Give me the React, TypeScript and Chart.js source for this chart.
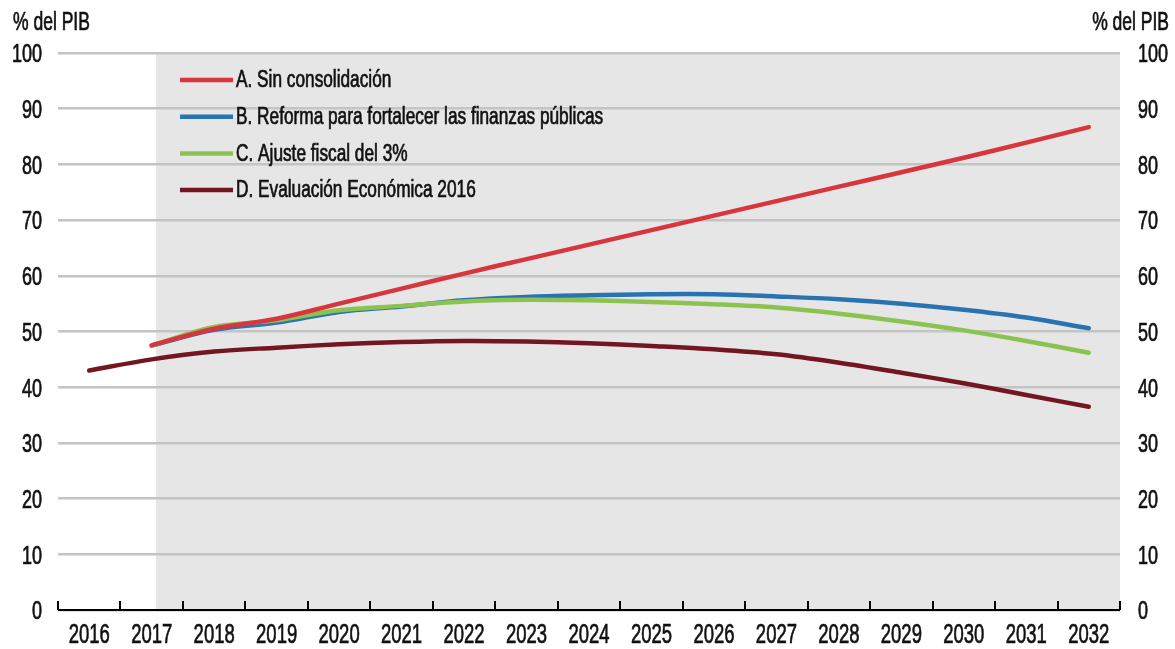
import React, { useEffect, useRef } from "react";
import { Chart, registerables } from "chart.js";

Chart.register(...registerables);

const YEARS = ["2016","2017","2018","2019","2020","2021","2022","2023","2024","2025","2026","2027","2028","2029","2030","2031","2032"];
const SIN_CONSOLIDACION = [null, 47.5, 50.5, 52.3, 55.0, 57.7, 60.4, 63.0, 65.6, 68.2, 70.8, 73.4, 76.0, 78.6, 81.2, 83.9, 86.7];
const REFORMA = [null, 47.5, 50.3, 51.6, 53.5, 54.5, 55.6, 56.2, 56.5, 56.7, 56.7, 56.3, 55.8, 55.0, 53.9, 52.5, 50.6];
const AJUSTE = [null, 47.5, 50.8, 52.0, 53.8, 54.6, 55.4, 55.7, 55.6, 55.3, 54.9, 54.3, 53.2, 51.8, 50.2, 48.3, 46.2];
const EVALUACION = [43.0, 45.0, 46.4, 47.1, 47.7, 48.1, 48.3, 48.2, 47.9, 47.4, 46.8, 45.9, 44.4, 42.6, 40.7, 38.6, 36.5];
const SERIES_LABELS = [
  "A. Sin consolidación",
  "B. Reforma para fortalecer las finanzas públicas",
  "C. Ajuste fiscal del 3%",
  "D. Evaluación Económica 2016",
];
const SERIES_COLORS = ["#d8363f", "#2874b2", "#8cc350", "#741522"];
const UNIT_LABEL = "% del PIB";
const Y_MIN = 0;
const Y_MAX = 100;
const Y_STEP = 10;
const SHADE_FROM = 1.07; // category index where projection shading starts

const FONT = '"Liberation Sans", Arial, sans-serif';

function drawText(ctx: CanvasRenderingContext2D, text: string, x: number, y: number, size: number, sx: number, align: CanvasTextAlign) {
  ctx.save();
  ctx.font = `${size}px ${FONT}`;
  ctx.textAlign = align;
  ctx.textBaseline = "middle";
  ctx.fillStyle = "#111";
  ctx.strokeStyle = "#111";
  ctx.lineWidth = 0.7;
  ctx.translate(x, y);
  ctx.scale(sx, 1);
  ctx.fillText(text, 0, 0);
  ctx.strokeText(text, 0, 0);
  ctx.restore();
}

const decorPlugin = {
  id: "decor",
  beforeDraw(chart: any) {
    const { ctx, chartArea, scales } = chart;
    const start = scales.x.getPixelForValue(SHADE_FROM);
    ctx.save();
    ctx.fillStyle = "#e6e6e6";
    ctx.fillRect(start, chartArea.top, chartArea.right - start, chartArea.bottom - chartArea.top);
    ctx.restore();
  },
  afterDraw(chart: any) {
    const { ctx, chartArea, scales } = chart;
    const x = scales.x;
    const y = scales.y;
    ctx.save();
    // axis line
    ctx.strokeStyle = "#000";
    ctx.lineWidth = 2;
    ctx.beginPath();
    ctx.moveTo(chartArea.left, chartArea.bottom);
    ctx.lineTo(chartArea.right, chartArea.bottom);
    ctx.stroke();
    // inward ticks at category boundaries
    for (let i = 0; i <= YEARS.length; i++) {
      const px = Math.round(x.getPixelForValue(i - 0.5));
      ctx.beginPath();
      ctx.moveTo(px, chartArea.bottom);
      ctx.lineTo(px, chartArea.bottom - 9);
      ctx.stroke();
    }
    ctx.restore();

    // x tick labels
    x.getLabels().forEach((lab: string, i: number) => {
      drawText(ctx, lab, x.getPixelForTick(i), chartArea.bottom + 25, 28, 0.66, "center");
    });
    // y tick labels, both sides
    y.ticks.forEach((t: any) => {
      const py = y.getPixelForValue(t.value) + 2.5;
      drawText(ctx, String(t.value), chartArea.left - 16, py, 25, 0.72, "right");
      drawText(ctx, String(t.value), chartArea.right + 18, py, 25, 0.72, "left");
    });
    // unit labels
    drawText(ctx, UNIT_LABEL, 13, 23, 25, 0.7, "left");
    drawText(ctx, UNIT_LABEL, 1169, 23, 25, 0.7, "right");

    // legend
    ctx.save();
    for (let i = 0; i < SERIES_LABELS.length; i++) {
      const ly = chartArea.top + 27 + i * 36.7;
      ctx.strokeStyle = SERIES_COLORS[i];
      ctx.lineWidth = 4.5;
      ctx.beginPath();
      ctx.moveTo(180, ly);
      ctx.lineTo(233, ly);
      ctx.stroke();
      drawText(ctx, SERIES_LABELS[i], 236, ly + 1, 23, 0.75, "left");
    }
    ctx.restore();
  },
};

export default function App() {
  const ref = useRef<HTMLCanvasElement | null>(null);
  useEffect(() => {
    if (!ref.current) return;
    const seriesData = [SIN_CONSOLIDACION, REFORMA, AJUSTE, EVALUACION];
    const drawOrder = [0, 2, 1, 3];
    const chart = new Chart(ref.current, {
      type: "line",
      data: {
        labels: YEARS,
        datasets: seriesData.map((d, i) => ({
          label: SERIES_LABELS[i],
          data: d,
          borderColor: SERIES_COLORS[i],
          backgroundColor: SERIES_COLORS[i],
          borderWidth: 4.5,
          pointRadius: 0,
          tension: 0.35,
          borderCapStyle: "round" as const,
          fill: false,
          order: drawOrder[i],
          yAxisID: "y",
        })),
      },
      options: {
        responsive: false,
        animation: false,
        layout: { padding: { top: 53, left: 0, right: 0, bottom: 0 } },
        plugins: { legend: { display: false }, tooltip: { enabled: false }, title: { display: false } },
        scales: {
          x: {
            type: "category",
            offset: true,
            grid: { display: false, drawTicks: false },
            border: { display: false },
            ticks: { display: false, autoSkip: false },
            afterFit: (s: any) => { s.height = 39; },
          },
          y: {
            position: "left",
            min: Y_MIN,
            max: Y_MAX,
            ticks: { stepSize: Y_STEP, display: false },
            grid: { color: "#c4c4c4", lineWidth: 2.5, drawTicks: false },
            border: { display: false },
            afterFit: (s: any) => { s.width = 58; },
          },
          y2: {
            position: "right",
            min: Y_MIN,
            max: Y_MAX,
            ticks: { stepSize: Y_STEP, display: false },
            grid: { display: false, drawTicks: false },
            border: { display: false },
            afterFit: (s: any) => { s.width = 55; },
          },
        },
      },
      plugins: [decorPlugin],
    });
    return () => chart.destroy();
  }, []);
  return (
    <div style={{ position: "fixed", left: 0, top: 0, width: 1175, height: 649, background: "#fff" }}>
      <canvas ref={ref} width={1175} height={649} />
    </div>
  );
}
